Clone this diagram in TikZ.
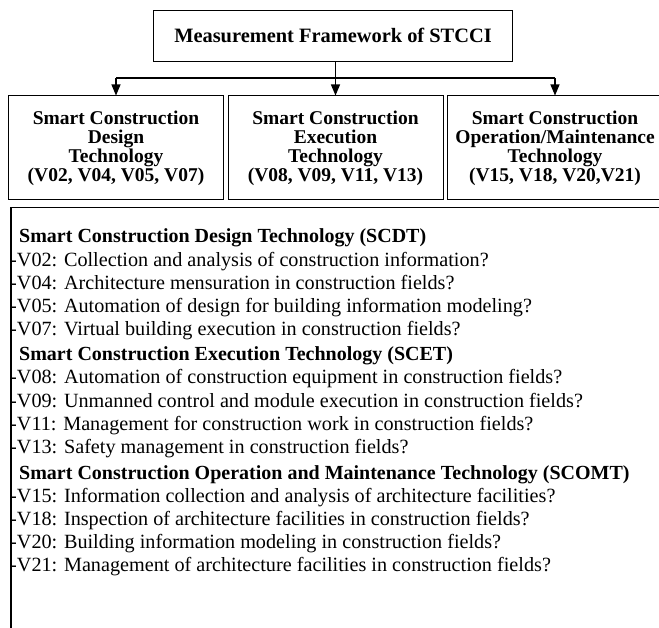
\documentclass[tikz,border=0pt]{standalone}
\usepackage{fontspec}
\setmainfont{Liberation Serif}
\usetikzlibrary{arrows.meta}
\begin{document}
\begin{tikzpicture}[x=1pt,y=-1pt,
  titlebox/.style={draw, line width=0.8pt, minimum width=359pt, minimum height=51pt,
    inner sep=0pt, font=\bfseries\fontsize{20.4}{22}\selectfont},
  catbox/.style={draw, line width=1pt, minimum width=215pt, minimum height=104pt,
    align=center, inner sep=0pt, font=\bfseries\fontsize{19.5}{19}\selectfont},
  panel/.style={draw, line width=1.5pt, anchor=north west, minimum width=700pt,
    minimum height=500pt, inner sep=0pt},
  link/.style={line width=1.1pt},
  arr/.style={link, -{Triangle[width=9pt,length=11pt]}},
  head/.style={anchor=base west, inner sep=0pt, font=\bfseries\fontsize{20}{22}\selectfont},
  item/.style={anchor=base west, inner sep=0pt, font=\fontsize{20.2}{22}\selectfont}
]
\useasboundingbox (0,0) rectangle (659,628);
\clip (0,0) rectangle (659,628);

% framework title and the three technology categories
\node[titlebox] (title) at (333,35.5) {Measurement Framework of STCCI};
\node[catbox] (scdt) at (116,148) {Smart Construction\\Design\\Technology\\(V02, V04, V05, V07)};
\node[catbox] (scet) at (335.5,148) {Smart Construction\\Execution\\Technology\\(V08, V09, V11, V13)};
\node[catbox] (scomt) at (555,148) {Smart Construction\\Operation/Maintenance\\Technology\\(V15, V18, V20,V21)};

% distribution bar with arrows into each category
\coordinate (busL) at (scdt.north |- 0,78);
\coordinate (busM) at (scet.north |- 0,78);
\coordinate (busR) at (scomt.north |- 0,78);
\draw[link] (busM |- title.south) -- (busM);
\draw[link] (busL) -- (busR);
\draw[arr] (busL) -- (scdt.north);
\draw[arr] (busM) -- (scet.north);
\draw[arr] (busR) -- (scomt.north);

% panel listing the measurement variables
\node[panel] (list) at (10,207) {};

\node[head] (h1) at (19,243) {Smart Construction Design Technology (SCDT)};
\node[item] (v02) at (10,267) {-V02: Collection and analysis of construction information?};
\node[item] (v04) at (10,290) {-V04: Architecture mensuration in construction fields?};
\node[item] (v05) at (10,313) {-V05: Automation of design for building information modeling?};
\node[item] (v07) at (10,336) {-V07: Virtual building execution in construction fields?};

\node[head] (h2) at (19,361) {Smart Construction Execution Technology (SCET)};
\node[item] (v08) at (10,384) {-V08: Automation of construction equipment in construction fields?};
\node[item] (v09) at (10,407) {-V09: Unmanned control and module execution in construction fields?};
\node[item] (v11) at (10,430) {-V11: Management for construction work in construction fields?};
\node[item] (v13) at (10,453) {-V13: Safety management in construction fields?};

\node[head] (h3) at (19,479) {Smart Construction Operation and Maintenance Technology (SCOMT)};
\node[item] (v15) at (10,502) {-V15: Information collection and analysis of architecture facilities?};
\node[item] (v18) at (10,525) {-V18: Inspection of architecture facilities in construction fields?};
\node[item] (v20) at (10,548) {-V20: Building information modeling in construction fields?};
\node[item] (v21) at (10,571) {-V21: Management of architecture facilities in construction fields?};
\end{tikzpicture}
\end{document}
